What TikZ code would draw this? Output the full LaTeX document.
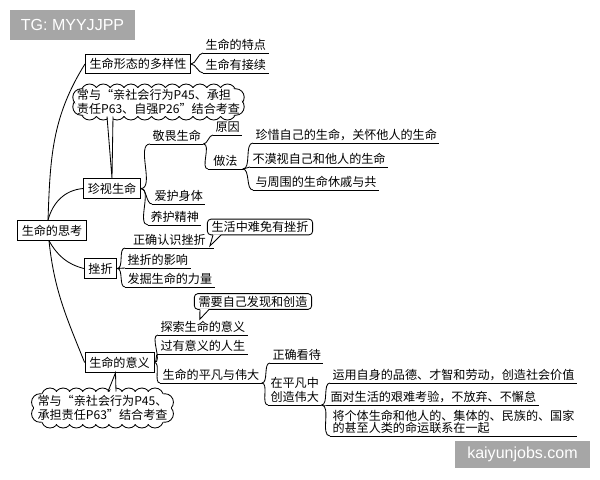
\documentclass[tikz,border=0pt]{standalone}
\usepackage{fontspec}
\newfontfamily\cjk{Noto Sans CJK SC}
\newfontfamily\wmfont{Liberation Sans}
\usetikzlibrary{calc}

\begin{document}
\begin{tikzpicture}[x=0.025cm, y=-0.025cm, line width=0.6pt,
	every node/.style={font=\cjk\fontsize{8.6}{10}\selectfont},
	topic/.style={draw, inner xsep=3pt, inner ysep=3pt},
	leaf/.style={anchor=south west, inner xsep=1.5pt, inner ysep=1.3pt, align=left},
	fan/.style={out=0, in=180, looseness=0.8},
	tipbox/.style={draw, rounded corners=2.5pt, inner xsep=3pt, inner ysep=1.6pt, fill=white},
	bump/.style={draw, fill=white},
	wmark/.style={fill=black!35, text=white, font=\wmfont\fontsize{11.4}{12}\selectfont, minimum height=0.75cm}
]
	\useasboundingbox (0,0) rectangle (600,480);

	%水印
		\node[wmark, minimum width=3.125cm] (tg) at (72.5,25) {TG: MYYJJPP};
		\node[wmark, minimum width=3.375cm, minimum height=0.68cm] (site) at (522.5,454.5) {kaiyunjobs.com};

	% 中心
		\node[topic] (root) at (52,230.5) {生命的思考};
		\coordinate (rtop) at ($(root.north)+(-4,0)$);
		\coordinate (rbot) at ($(root.south)+(-3,0)$);

	% 分支
		\node[topic] (form) at (138,64) {生命形态的多样性};
		\node[topic] (cherish) at (112,188.5) {珍视生命};
		\node[topic] (setback) at (100.5,268.5) {挫折};
		\node[topic] (meaning) at (119.5,362.5) {生命的意义};

		\draw (rtop) to[out=88, in=-122] (form.west);
		\draw (rtop) to[out=75, in=185] (cherish.west);
		\draw (rbot) to[out=-60, in=165] (setback.west);
		\draw (rbot) to[out=-84, in=112] (meaning.west);

	% 生命形态的多样性
		\node[leaf] (trait) at (203,53) {生命的特点};
		\node[leaf] (succeed) at (203,73) {生命有接续};

	% 珍视生命
		\node[leaf] (awe) at (150,144) {敬畏生命};
		\node[leaf] (body) at (152,204) {爱护身体};
		\node[leaf] (spirit) at (148,225) {养护精神};
		\node[leaf] (reason) at (213,135) {原因};
		\node[leaf, minimum width=0.85cm] (method) at (208,169) {做法};
		\node[leaf] (m1) at (253,143) {珍惜自己的生命，关怀他人的生命};
		\node[leaf] (m2) at (250,167) {不漠视自己和他人的生命};
		\node[leaf] (m3) at (253,190) {与周围的生命休戚与共};

	% 挫折
		\node[leaf, minimum width=2.2cm] (face) at (125,248) {正确认识挫折};
		\node[leaf] (effect) at (125,268) {挫折的影响};
		\node[leaf] (power) at (125,287) {发掘生命的力量};

	% 生命的意义
		\node[leaf] (explore) at (158,335) {探索生命的意义};
		\node[leaf] (live) at (158,354) {过有意义的人生};
		\node[leaf] (ordinary) at (160,383) {生命的平凡与伟大};
		\node[leaf] (view) at (270,363) {正确看待};
		\node[leaf, minimum width=1.3cm] (create) at (268,405) {在平凡中\\创造伟大};
		\node[leaf] (g1) at (330,383) {运用自身的品德、才智和劳动，创造社会价值};
		\node[leaf] (g2) at (328,405) {面对生活的艰难考验，不放弃、不懈怠};
		\node[leaf, font=\cjk\fontsize{8.6}{8.9}\selectfont] (g3) at (330,436) {将个体生命和他人的、集体的、民族的、国家\\的甚至人类的命运联系在一起};

	% 下划线
		\foreach \n in {trait,succeed,awe,body,spirit,reason,method,m1,m2,m3,face,effect,power,explore,live,ordinary,view,create,g1,g2,g3}
			\draw (\n.south west) -- (\n.south east);

	% 连线
		\foreach \a/\b in {form/trait,form/succeed,cherish/awe,cherish/body,cherish/spirit,setback/face,setback/effect,setback/power,meaning/explore,meaning/live,meaning/ordinary}
			\draw (\a.east) to[fan] (\b.south west);
		\foreach \a/\b in {awe/reason,awe/method,method/m1,method/m2,method/m3,ordinary/view,ordinary/create,create/g1,create/g2,create/g3}
			\draw (\a.south east) to[fan] (\b.south west);

	% 云形注释 A
		\coordinate (cA) at (158.5,102);
		\foreach \i in {0,...,10} {
			\draw[bump] ($(cA)+(-69+13.8*\i,-9.5)$) circle[radius=8.5];
			\draw[bump] ($(cA)+(-69+13.8*\i,9.5)$) circle[radius=8.5];
		}
		\foreach \t in {-30,30} {
			\draw[bump] ($(cA)+(69,0)+(\t:9.5)$) circle[radius=8.5];
			\draw[bump] ($(cA)+(-69,0)+(180+\t:9.5)$) circle[radius=8.5];
		}
		\fill[white] ($(cA)+(-69,-14.4)$) rectangle ($(cA)+(69,14.4)$);
		\fill[white] ($(cA)+(69,0)$) circle[radius=14.4] ($(cA)+(-69,0)$) circle[radius=14.4];
		\coordinate (tA1) at (107,110);
		\coordinate (tA2) at (113,110);
		\fill[white] (tA1) -- (cherish.north) -- (tA2) -- cycle;
		\draw ($(tA1)+(0,6.5)$) -- (cherish.north) -- ($(tA2)+(0,6.5)$);
		\node[align=left, font=\cjk\fontsize{8.6}{9.4}\selectfont] (noteA) at (cA) {常与“亲社会行为P45、承担\\责任P63、自强P26”结合考查};

	% 云形注释 B
		\coordinate (cB) at (102.5,408);
		\foreach \i in {0,...,8} {
			\draw[bump] ($(cB)+(-52.5+13.125*\i,-11.5)$) circle[radius=8.5];
			\draw[bump] ($(cB)+(-52.5+13.125*\i,11.5)$) circle[radius=8.5];
		}
		\foreach \t in {-30,30} {
			\draw[bump] ($(cB)+(52.5,0)+(\t:11.5)$) circle[radius=8.5];
			\draw[bump] ($(cB)+(-52.5,0)+(180+\t:11.5)$) circle[radius=8.5];
		}
		\fill[white] ($(cB)+(-52.5,-16.4)$) rectangle ($(cB)+(52.5,16.4)$);
		\fill[white] ($(cB)+(52.5,0)$) circle[radius=16] ($(cB)+(-52.5,0)$) circle[radius=16];
		\coordinate (tB1) at (108,398);
		\coordinate (tB2) at (116,398);
		\fill[white] (tB1) -- ($(meaning.south)+(-4,0)$) -- (tB2) -- cycle;
		\draw ($(tB1)+(0,-6.5)$) -- ($(meaning.south)+(-4,0)$) -- ($(tB2)+(0,-6.5)$);
		\node[align=left, font=\cjk\fontsize{8.6}{9.8}\selectfont] (noteB) at (cB) {常与“亲社会行为P45、\\承担责任P63”结合考查};

	% 方框注释
		\node[tipbox] (tipA) at (260,227) {生活中难免有挫折};
		\fill[white] ($(tipA.south west)+(6,-0.8)$) -- ($(face.south east)+(-4,-2)$) -- ($(tipA.south west)+(14,-0.8)$) -- cycle;
		\draw ($(tipA.south west)+(6,-0.2)$) -- ($(face.south east)+(-4,-2)$) -- ($(tipA.south west)+(14,-0.2)$);

		\node[tipbox] (tipB) at (253,301.5) {需要自己发现和创造};
		\fill[white] ($(tipB.south west)+(6,-0.8)$) -- ($(explore.north)+(-3,0)$) -- ($(tipB.south west)+(15,-0.8)$) -- cycle;
		\draw ($(tipB.south west)+(6,-0.2)$) -- ($(explore.north)+(-3,0)$) -- ($(tipB.south west)+(15,-0.2)$);
\end{tikzpicture}
\end{document}
